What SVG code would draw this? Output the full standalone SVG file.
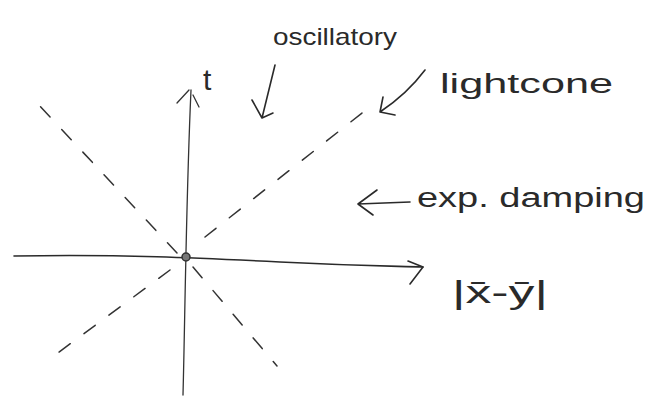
<svg xmlns="http://www.w3.org/2000/svg" width="672" height="399" viewBox="0 0 672 399">
<style>
.ln{fill:none;stroke:#2a2a2a;stroke-width:1.6;stroke-linecap:round;stroke-linejoin:round}
.ax{fill:none;stroke:#333;stroke-width:1.3;stroke-linecap:round}
.dash{fill:none;stroke:#333;stroke-width:1.5;stroke-dasharray:14 17;stroke-linecap:round}
.lbl{font-family:"Liberation Sans","DejaVu Sans",sans-serif;fill:#2a2a2a;font-weight:normal}
</style>
<rect width="672" height="399" fill="#fff"/>
<g id="connectors">
  <path class="dash" d="M205,237 L362,113"/>
  <path class="dash" d="M177,253 L37,103"/>
  <path class="dash" d="M170,270 L55,355"/>
  <path class="dash" d="M193,267 L277,366"/>
  <path class="ln" d="M14,256 C120,254 200,258 280,262 S390,266 423,267"/>
  <path class="ln" d="M408,261 L423,267 L410,284"/>
  <path class="ax" d="M183,395 C185,320 186,200 191,90"/>
  <path class="ax" d="M177,103 L189,90 M193,95 L199,107"/>
  <path class="ln" d="M275,65 L262,118 M252,100 L262,118 L273,113"/>
  <path class="ln" d="M425,70 C410,90 395,102 380,112 M383,97 L380,112 L395,115"/>
  <path class="ln" d="M410,202 L358,204 M377,190 L358,204 L373,215"/>
</g>
<g id="origin"><circle cx="186" cy="257" r="4" fill="#777" stroke="#333" stroke-width="1.5"/></g>
<g id="label-t"><text class="lbl" x="203" y="90" font-size="30">t</text></g>
<g id="label-oscillatory"><text class="lbl" x="273" y="45" font-size="24" textLength="124" lengthAdjust="spacingAndGlyphs">oscillatory</text></g>
<g id="label-lightcone"><text class="lbl" x="440" y="93" font-size="27" textLength="173" lengthAdjust="spacingAndGlyphs">lightcone</text></g>
<g id="label-damping"><text class="lbl" x="417" y="207" font-size="27" textLength="228" lengthAdjust="spacingAndGlyphs">exp. damping</text></g>
<g id="label-xy"><text class="lbl" x="452" y="303" font-size="31" textLength="96" lengthAdjust="spacingAndGlyphs">|x̄-ȳ|</text></g>
</svg>
